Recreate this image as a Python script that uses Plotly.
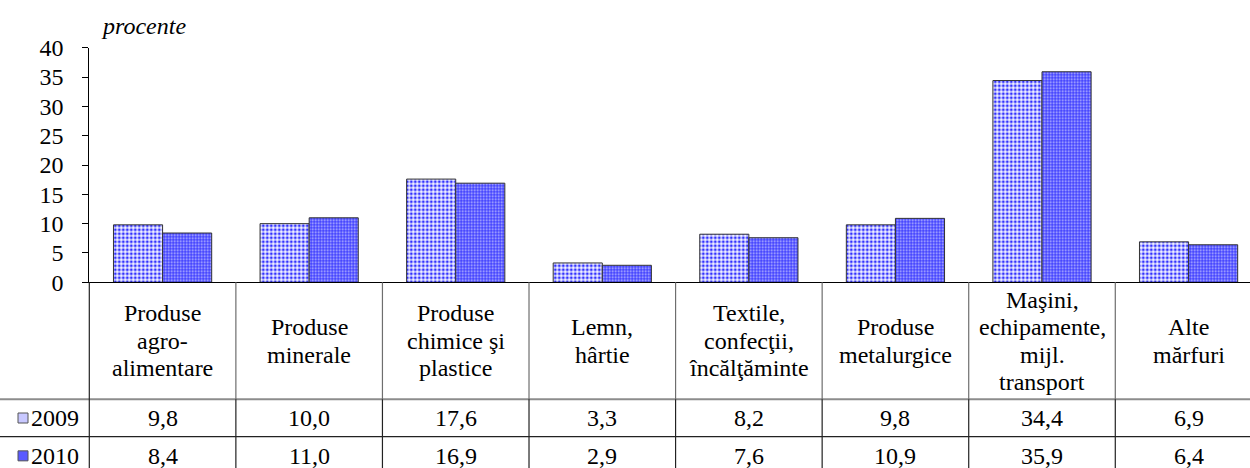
import plotly.graph_objects as go

categories = [
    ["Produse", "agro-", "alimentare"],
    ["Produse", "minerale"],
    ["Produse", "chimice şi", "plastice"],
    ["Lemn,", "hârtie"],
    ["Textile,", "confecţii,", "încălţăminte"],
    ["Produse", "metalurgice"],
    ["Maşini,", "echipamente,", "mijl.", "transport"],
    ["Alte", "mărfuri"],
]
series_names = ["2009", "2010"]
values_2009 = [9.8, 10.0, 17.6, 3.3, 8.2, 9.8, 34.4, 6.9]
values_2010 = [8.4, 11.0, 16.9, 2.9, 7.6, 10.9, 35.9, 6.4]
y_ticks = [0, 5, 10, 15, 20, 25, 30, 35, 40]

W, H = 1250, 468
FONT = "Liberation Serif"
FS = 24

def py(p):
    return 1 - p / H

def px(p):
    return p / W

x_idx = list(range(len(categories)))
AX_LEFT = 89.3
PITCH = 146.57
x_max = -0.5 + (W - AX_LEFT) / PITCH

fig = go.Figure()
fig.add_trace(go.Bar(
    x=x_idx, y=values_2009, name=series_names[0],
    marker=dict(color="white", line=dict(color="#333333", width=1),
                pattern=dict(shape=".", fgcolor="#3030ff", bgcolor="#f6f6ff", size=4, solidity=0.45)),
))
fig.add_trace(go.Bar(
    x=x_idx, y=values_2010, name=series_names[1],
    marker=dict(color="#4a4aff", line=dict(color="#333333", width=1),
                pattern=dict(shape=".", fgcolor="#c4c4ff", bgcolor="#4040ff", size=3, solidity=0.3)),
))

shapes = []
annotations = []

hdr_top, hdr_bot = 282.3, 399.3
row1_bot = 436.7
shapes.append(dict(type="line", xref="paper", yref="paper", x0=0, x1=1,
                   y0=py(hdr_bot), y1=py(hdr_bot), line=dict(color="#8c8c8c", width=2)))
shapes.append(dict(type="line", xref="paper", yref="paper", x0=0, x1=1,
                   y0=py(row1_bot), y1=py(row1_bot), line=dict(color="#222222", width=1.2)))
shapes.append(dict(type="line", xref="paper", yref="paper", x0=px(AX_LEFT), x1=px(AX_LEFT),
                   y0=py(hdr_top), y1=0, line=dict(color="#222222", width=1.2)))
for i in range(len(categories)):
    xd = i + 0.5
    shapes.append(dict(type="line", xref="x", yref="paper", x0=xd, x1=xd,
                       y0=py(hdr_top), y1=py(hdr_bot), line=dict(color="#6e6e6e", width=1.2)))
    shapes.append(dict(type="line", xref="x", yref="paper", x0=xd, x1=xd,
                       y0=py(hdr_bot), y1=0, line=dict(color="#222222", width=1.2)))

pitch = 27.5
hdr_center = (hdr_top + hdr_bot) / 2
for i, lines in enumerate(categories):
    n = len(lines)
    for k, t in enumerate(lines):
        yc = hdr_center + (k - (n - 1) / 2) * pitch
        annotations.append(dict(x=i, y=py(yc), xref="x", yref="paper", text=t,
                                showarrow=False, xanchor="center", yanchor="middle",
                                font=dict(family=FONT, size=FS, color="black")))

row_centers = [(hdr_bot + row1_bot) / 2, (row1_bot + 468 + 7) / 2]
for vals, yc in zip([values_2009, values_2010], row_centers):
    for i, v in enumerate(vals):
        annotations.append(dict(x=i, y=py(yc), xref="x", yref="paper",
                                text=f"{v:.1f}".replace(".", ","), showarrow=False,
                                xanchor="center", yanchor="middle",
                                font=dict(family=FONT, size=FS, color="black")))

key_fills = ["#c8c8ff", "#5a5aff"]
for name, yc, fill in zip(series_names, row_centers, key_fills):
    shapes.append(dict(type="rect", xref="paper", yref="paper",
                       x0=px(18), x1=px(28), y0=py(yc + 5), y1=py(yc - 5),
                       fillcolor=fill, line=dict(color="#555555", width=1)))
    annotations.append(dict(x=px(29), y=py(yc), xref="paper", yref="paper", text=name,
                            showarrow=False, xanchor="left", yanchor="middle",
                            font=dict(family=FONT, size=FS, color="black")))

annotations.append(dict(x=px(99), y=py(26), xref="paper", yref="paper", text="<i>procente</i>",
                        showarrow=False, xanchor="left", yanchor="middle",
                        font=dict(family=FONT, size=FS, color="black")))

fig.update_layout(
    template="none",
    width=W, height=H,
    margin=dict(l=0, r=0, t=0, b=0, pad=0, autoexpand=False),
    paper_bgcolor="white", plot_bgcolor="white",
    showlegend=False,
    barmode="group", bargap=0.33, bargroupgap=0,
    shapes=shapes, annotations=annotations,
    xaxis=dict(domain=[px(AX_LEFT), 1], range=[-0.5, x_max], showticklabels=False,
               showgrid=False, zeroline=False, showline=True, linecolor="black",
               linewidth=1.2, ticks="", automargin=False),
    yaxis=dict(domain=[py(282.3), py(47.7)], range=[0, 40], tickvals=y_ticks,
               showgrid=False, zeroline=False, showline=True, linecolor="black",
               linewidth=1.2, ticks="outside", ticklen=6, tickcolor="black",
               ticklabelstandoff=14, automargin=False,
               tickfont=dict(family=FONT, size=FS, color="black")),
    font=dict(family=FONT, size=FS, color="black"),
)

fig.write_html("out.html", config={"displayModeBar": False},
               post_script="document.body.style.margin='0';document.body.style.overflow='hidden';")
